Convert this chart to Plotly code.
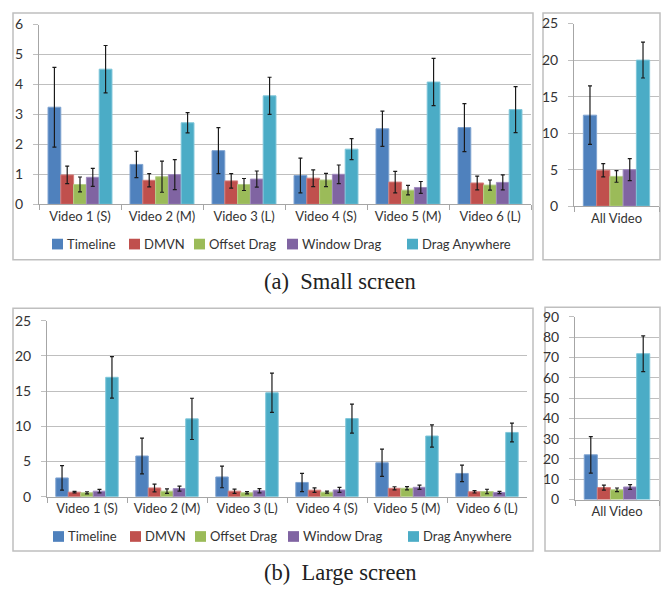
import plotly.graph_objects as go

W, H = 667, 595

series = ["Timeline", "DMVN", "Offset Drag", "Window Drag", "Drag Anywhere"]
colors = ["#4F81BD", "#C0504D", "#9BBB59", "#8064A2", "#4BACC6"]
edge_colors = ["#7FA3D1", "#D47E7C", "#B7D08A", "#A08BBF", "#7FC6D9"]
videos = ["Video 1 (S)", "Video 2 (M)", "Video 3 (L)", "Video 4 (S)", "Video 5 (M)", "Video 6 (L)"]
all_label = ["All Video"]

# (a) Small screen, per video
small_timeline = [3.24, 1.33, 1.79, 0.96, 2.52, 2.56]
small_timeline_err = [1.33, 0.44, 0.77, 0.58, 0.59, 0.80]
small_dmvn = [0.98, 0.80, 0.78, 0.87, 0.74, 0.71]
small_dmvn_err = [0.29, 0.22, 0.24, 0.28, 0.36, 0.23]
small_offset = [0.66, 0.92, 0.66, 0.81, 0.47, 0.64]
small_offset_err = [0.25, 0.52, 0.20, 0.22, 0.16, 0.17]
small_window = [0.90, 0.99, 0.84, 1.00, 0.56, 0.73]
small_window_err = [0.30, 0.50, 0.27, 0.31, 0.20, 0.25]
small_anywhere = [4.51, 2.72, 3.62, 1.84, 4.08, 3.16]
small_anywhere_err = [0.79, 0.34, 0.62, 0.35, 0.79, 0.77]

# (a) Small screen, all videos
small_all = [12.46, 4.92, 4.08, 5.00, 20.0]
small_all_err = [4.0, 0.9, 0.8, 1.5, 2.45]

# (b) Large screen, per video
large_timeline = [2.66, 5.78, 2.80, 2.02, 4.82, 3.30]
large_timeline_err = [1.74, 2.55, 1.53, 1.30, 1.95, 1.17]
large_dmvn = [0.64, 1.24, 0.78, 0.92, 1.19, 0.69]
large_dmvn_err = [0.10, 0.55, 0.30, 0.32, 0.22, 0.17]
large_offset = [0.55, 0.78, 0.55, 0.64, 1.19, 0.73]
large_offset_err = [0.15, 0.32, 0.16, 0.15, 0.23, 0.32]
large_window = [0.78, 1.15, 0.83, 0.96, 1.33, 0.60]
large_window_err = [0.25, 0.35, 0.30, 0.35, 0.30, 0.16]
large_anywhere = [16.97, 11.06, 14.77, 11.10, 8.62, 9.13]
large_anywhere_err = [2.95, 2.93, 2.80, 2.07, 1.58, 1.33]

# (b) Large screen, all videos
large_all = [22.06, 5.9, 4.8, 6.2, 71.9]
large_all_err = [9.0, 1.2, 0.9, 1.2, 8.8]

small_vals = [small_timeline, small_dmvn, small_offset, small_window, small_anywhere]
small_errs = [small_timeline_err, small_dmvn_err, small_offset_err, small_window_err, small_anywhere_err]
large_vals = [large_timeline, large_dmvn, large_offset, large_window, large_anywhere]
large_errs = [large_timeline_err, large_dmvn_err, large_offset_err, large_window_err, large_anywhere_err]

FONT = "Lato"
TXT = "#333333"
GRID = "#BFBFBF"
LINE = "#A6A6A6"


def px(x):
    return x / W


def py(y):
    return 1 - y / H


fig = go.Figure()


def add_bars(vals_list, errs_list, cats, xa, ya):
    for i, name in enumerate(series):
        fig.add_trace(go.Bar(
            x=cats, y=vals_list[i], name=name,
            marker=dict(color=colors[i], line=dict(color=edge_colors[i], width=1)),
            error_y=dict(type="data", array=errs_list[i], color="#1a1a1a", thickness=1.2, width=2),
            xaxis=xa, yaxis=ya, showlegend=False, hoverinfo="skip",
        ))


add_bars(small_vals, small_errs, videos, "x", "y")
add_bars([[v] for v in small_all], [[e] for e in small_all_err], all_label, "x2", "y2")
add_bars(large_vals, large_errs, videos, "x3", "y3")
add_bars([[v] for v in large_all], [[e] for e in large_all_err], all_label, "x4", "y4")


def xax(domain, anchor):
    return dict(domain=domain, anchor=anchor, type="category", showgrid=False,
                showline=True, linecolor=LINE, linewidth=1, ticks="outside",
                tickson="boundaries", ticklen=5, tickcolor=LINE,
                tickfont=dict(family=FONT, size=13, color=TXT), zeroline=False)


def yax(domain, anchor, rng, dtick):
    return dict(domain=domain, anchor=anchor, range=rng, dtick=dtick, showgrid=True,
                gridcolor=GRID, gridwidth=1, showline=True, linecolor=LINE, linewidth=1,
                ticks="outside", ticklen=5, tickcolor=GRID, zeroline=False,
                tickfont=dict(family=FONT, size=14, color=TXT), ticklabelstandoff=7)


fig.update_layout(
    width=W, height=H, margin=dict(l=0, r=0, t=0, b=0),
    paper_bgcolor="white", plot_bgcolor="white",
    barmode="group", bargap=0.22, bargroupgap=0, showlegend=False,
    xaxis=xax([px(39), px(531)], "y"),
    yaxis=yax([py(201), py(16)], "x", [0, 6], 1),
    xaxis2=xax([px(574), px(659)], "y2"),
    yaxis2=yax([py(203), py(15)], "x2", [0, 25], 5),
    xaxis3=xax([px(47), px(527)], "y3"),
    yaxis3=yax([py(502), py(321)], "x3", [0, 25], 5),
    xaxis4=xax([px(575), px(659)], "y4"),
    yaxis4=yax([py(505), py(317)], "x4", [0, 90], 10),
)

# Panel borders
boxes = [(13, 4, 533, 258), (543, 4, 660, 258), (13, 308, 533, 558), (545, 307, 660, 558)]
for (x0, y0, x1, y1) in boxes:
    fig.add_shape(type="rect", xref="paper", yref="paper",
                  x0=px(x0), x1=px(x1), y0=py(y1), y1=py(y0),
                  line=dict(color="#BFBFBF", width=1.5), fillcolor="rgba(0,0,0,0)", layer="below")

# Legends (one per row of panels)
legend_x = [52, 129, 194, 287, 407]
for ly, dx in [(242, 0), (543, 1)]:
    for i, name in enumerate(series):
        x0 = legend_x[i] + dx
        fig.add_shape(type="rect", xref="paper", yref="paper",
                      x0=px(x0), x1=px(x0 + 11), y0=py(ly + 5.5), y1=py(ly - 5.5),
                      line=dict(width=0), fillcolor=colors[i])
        fig.add_annotation(text=name, xref="paper", yref="paper", x=px(x0 + 13), y=py(ly),
                           xanchor="left", yanchor="middle", showarrow=False,
                           font=dict(family=FONT, size=13, color=TXT))

# Captions
for text, cy in [("(a)&nbsp;&nbsp;Small screen", 280), ("(b)&nbsp;&nbsp;Large screen", 580)]:
    fig.add_annotation(text=text, xref="paper", yref="paper", x=px(340), y=py(cy),
                       xanchor="center", yanchor="middle", showarrow=False,
                       font=dict(family="Liberation Serif", size=22.5, color="#222222"))

post = ("document.body.style.margin='0';"
        "var d=document.getElementById('{plot_id}');"
        "d.style.position='absolute';d.style.top='0px';d.style.left='0px';")
fig.write_html("out.html", post_script=post, config={"displayModeBar": False, "staticPlot": True})
